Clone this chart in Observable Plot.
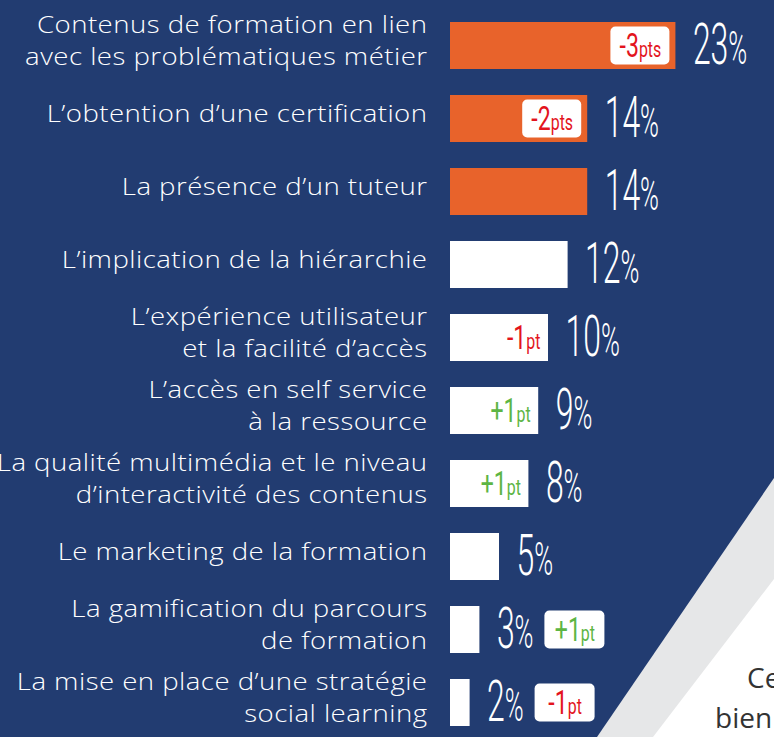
<!DOCTYPE html>
<html><head><meta charset="utf-8">
<script src="https://cdn.jsdelivr.net/npm/d3@7"></script>
<script src="https://cdn.jsdelivr.net/npm/@observablehq/plot@0.6"></script>
<style>
body{margin:0;}
#wrap{position:relative;width:774px;height:737px;overflow:hidden;background:#fff;}
.layer{position:absolute;left:0;top:0;width:774px;height:737px;}
#gray{background:#e6e7e8;clip-path:polygon(0 0,774px 0,774px 579px,653px 737px,0 737px);}
#blue{background:#223c71;clip-path:polygon(0 0,774px 0,774px 478px,597px 737px,0 737px);}
.note{position:absolute;color:#333;font-family:"Open Sans",sans-serif;font-size:28px;line-height:28px;white-space:nowrap;}
#chart{position:absolute;left:0;top:0;}
</style></head><body>
<div id="wrap">
<div class="layer" id="gray"></div>
<div class="layer" id="blue"></div>
<div class="note" style="left:747px;top:663px">Ce</div>
<div class="note" style="left:715px;top:703px">bien</div>
<div id="chart"></div>
</div>
<script>
const labels = [
  "Contenus de formation en lien\navec les problématiques métier",
  "L’obtention d’une certification",
  "La présence d’un tuteur",
  "L’implication de la hiérarchie",
  "L’expérience utilisateur\net la facilité d’accès",
  "L’accès en self service\nà la ressource",
  "La qualité multimédia et le niveau\nd’interactivité des contenus",
  "Le marketing de la formation",
  "La gamification du parcours\nde formation",
  "La mise en place d’une stratégie\nsocial learning"
];
const values = [23, 14, 14, 12, 10, 9, 8, 5, 3, 2];
const changes = [-3, -2, null, null, -1, 1, 1, null, 1, -1];
const highlighted = [true, true, true, false, false, false, false, false, false, false];

const data = labels.map((label, i) => ({
  label, value: values[i], change: changes[i], hi: highlighted[i]
}));
const badgeText = d => (d.change > 0 ? "+" : "-") + Math.abs(d.change) + (Math.abs(d.change) > 1 ? "pts" : "pt");
const badgeKey = d => d.change > 0 ? "up" : "down";
const hasChange = d => d.change != null;

const inOrange = data.filter(d => d.hi && hasChange(d));
const inWhite = data.filter(d => !d.hi && hasChange(d) && d.value >= 5);
const outside = data.filter(d => hasChange(d) && d.value < 5);

const chart = Plot.plot({
  width: 774,
  height: 737,
  marginLeft: 450,
  marginRight: 0,
  marginTop: 18,
  marginBottom: 7,
  style: {background: "transparent", overflow: "visible"},
  x: {domain: [0, 33.06], axis: null},
  y: {domain: labels, axis: null, paddingInner: 0.35, paddingOuter: 0},
  color: {type: "ordinal", domain: ["top", "other", "up", "down"], range: ["#e8632b", "#ffffff", "#5db544", "#e3141d"]},
  marks: [
    Plot.barX(data, {y: "label", x: "value", fill: d => d.hi ? "top" : "other"}),
    Plot.text(data, {y: "label", text: "label", frameAnchor: "left", textAnchor: "end", dx: -23, dy: -7,
      fill: "white", fontSize: 24, lineHeight: 1.33, fontFamily: "'Open Sans', sans-serif", fontWeight: 300,
      ariaDescription: "category-label"}),
    Plot.text(data, {y: "label", x: "value", text: d => d.value + "%", textAnchor: "start", dx: 17,
      fill: "white", fontSize: 57, fontWeight: 300, fontFamily: "Roboto, sans-serif", ariaDescription: "value-label"}),
    Plot.barX(inOrange, {y: "label", x1: "value", x2: "value", insetLeft: -65, insetRight: 6,
      insetTop: 4.5, insetBottom: 4.5, fill: "white", rx: 5}),
    Plot.text(inOrange, {y: "label", x: "value", text: badgeText, textAnchor: "middle", dx: -35.5,
      fill: badgeKey, fontSize: 33, fontFamily: "Roboto, sans-serif", ariaDescription: "badge"}),
    Plot.text(inWhite, {y: "label", x: "value", text: badgeText, textAnchor: "end", dx: -8,
      fill: badgeKey, fontSize: 33, fontFamily: "Roboto, sans-serif", ariaDescription: "badge"}),
    Plot.barX(outside, {y: "label", x1: "value", x2: "value", insetLeft: 65, insetRight: -125,
      insetTop: 4.5, insetBottom: 4.5, fill: "white", rx: 5}),
    Plot.text(outside, {y: "label", x: "value", text: badgeText, textAnchor: "middle", dx: 95,
      fill: badgeKey, fontSize: 33, fontFamily: "Roboto, sans-serif", ariaDescription: "badge"})
  ]
});
document.getElementById("chart").appendChild(chart);

const NS = "http://www.w3.org/2000/svg";
const groupOf = t => {
  const g = t.closest("g[aria-description]");
  return g ? g.getAttribute("aria-description") : null;
};
chart.querySelectorAll("text").forEach(t => {
  const kind = groupOf(t);
  const tr = t.getAttribute("transform") || "";
  if (kind === "category-label") {
    t.setAttribute("transform", tr + " scale(1.15,1)");
    t.setAttribute("letter-spacing", "0.4");
    return;
  }
  if (kind !== "value-label" && kind !== "badge") return;
  const isBadge = kind === "badge";
  const m = t.textContent.match(/^([+\-]?\d+)(.*)$/);
  if (!m) return;
  t.textContent = "";
  const a = document.createElementNS(NS, "tspan");
  a.textContent = m[1];
  const b = document.createElementNS(NS, "tspan");
  b.textContent = m[2];
  b.setAttribute("font-size", isBadge ? "0.69em" : "0.8em");
  t.appendChild(a); t.appendChild(b);
  t.setAttribute("transform", tr + (isBadge ? " scale(0.7,1)" : " scale(0.56,1)"));
});
</script>
</body></html>
